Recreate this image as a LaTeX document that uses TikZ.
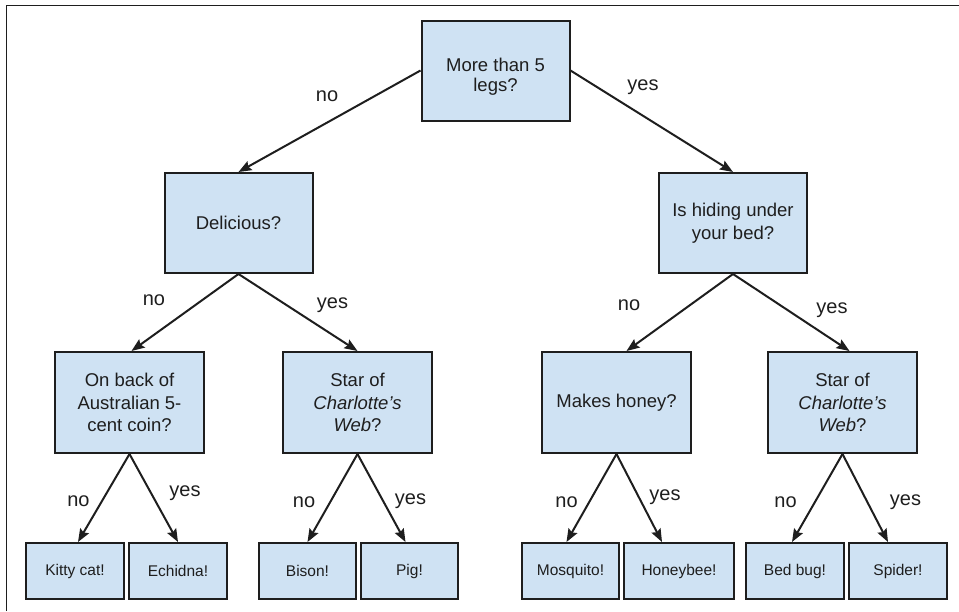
\documentclass[tikz,border=0pt]{standalone}
\usepackage{fontspec}
\setmainfont{Liberation Sans}
\usetikzlibrary{arrows.meta}
\definecolor{boxfill}{HTML}{CFE2F3}
\definecolor{ink}{HTML}{1E1E1E}
\newcommand{\charweb}{Star of\\\textit{Charlotte’s}\\\textit{Web}?}

\begin{document}
\begin{tikzpicture}[x=1pt,y=-1pt,
  question/.style={draw=ink,fill=boxfill,line width=2pt,inner sep=0pt,align=center,
    minimum width=148pt,minimum height=100pt,text=ink,font=\fontsize{18.5}{22.5}\selectfont},
  answer/.style={question,minimum width=98pt,minimum height=56pt,font=\fontsize{15.5}{18}\selectfont},
  branch/.style={text=ink,font=\fontsize{20}{24}\selectfont,inner sep=0pt},
  arrow/.style={-{Stealth[length=13pt,width=10pt,inset=2pt]},line width=2pt,ink}]
 \useasboundingbox (0,0) rectangle (959,611);
 \draw[ink,line width=1.3pt] (6.5,611) -- (6.5,5.5) -- (959,5.5);
 % questions
 \node[question,label={[align=center,text=ink,font=\fontsize{18.5}{20.5}\selectfont,yshift=-6pt]center:More than 5\\legs?}]
   (root)  at (495.5,70.5) {};
 \node[question] (deli)  at (238.5,223)  {Delicious?};
 \node[question] (hide)  at (733,223)    {Is hiding under\\your bed?};
 \node[question,minimum width=149pt,minimum height=101pt] (coin)  at (129.5,402.5) {On back of\\Australian 5-\\cent coin?};
 \node[question,minimum width=149pt,minimum height=101pt] (starL) at (357.5,402.5) {\charweb};
 \node[question,minimum width=149pt,minimum height=101pt] (honey) at (616.5,402.5) {Makes honey?};
 \node[question,minimum width=149pt,minimum height=101pt] (starR) at (842.5,402.5) {\charweb};
 % answers
 \node[answer] (kitty)    at (75,571)    {Kitty cat!};
 \node[answer] (echidna)  at (178,571)   {Echidna!};
 \node[answer,minimum width=97pt] (bison) at (307.5,571) {Bison!};
 \node[answer,minimum width=97pt] (pig)   at (409.5,571) {Pig!};
 \node[answer,minimum width=97pt] (mosq)  at (570.5,571) {Mosquito!};
 \node[answer,minimum width=110pt] (honeybee) at (679,571) {Honeybee!};
 \node[answer] (bedbug)   at (795,571)   {Bed bug!};
 \node[answer] (spider)   at (898,571)   {Spider!};
 % branches
 \path[arrow]
   (root.west)  edge (deli.north)
   (root.east)  edge (hide.north)
   (deli.south) edge ([xshift=2pt]coin.north)
                edge (starL.north)
   (hide.south) edge ([xshift=10pt]honey.north)
                edge ([xshift=7pt]starR.north)
   (coin.south) edge ([xshift=3pt]kitty.north)
                edge (echidna.north)
   (starL.south) edge (bison.north)
                edge ([xshift=-4pt]pig.north)
   (honey.south) edge ([xshift=-4pt]mosq.north)
                edge ([xshift=-17pt]honeybee.north)
   (starR.south) edge ([xshift=-3pt]bedbug.north)
                edge ([xshift=-10pt]spider.north);
 % labels
 \node[branch] (n1) at (327,96)    {no};
 \node[branch] (y1) at (643,87.5)  {yes};
 \node[branch] (n2) at (154,300)   {no};
 \node[branch] (y2) at (332.5,305) {yes};
 \node[branch] (n3) at (629,305)   {no};
 \node[branch] (y3) at (832,310)   {yes};
 \node[branch] (n4) at (78.5,501)  {no};
 \node[branch] (y4) at (185,493.5) {yes};
 \node[branch] (n5) at (304,502)   {no};
 \node[branch] (y5) at (410.5,501.5) {yes};
 \node[branch] (n6) at (566.5,502) {no};
 \node[branch] (y6) at (665,497)   {yes};
 \node[branch] (n7) at (785.5,502) {no};
 \node[branch] (y7) at (905.5,502) {yes};
\end{tikzpicture}
\end{document}
